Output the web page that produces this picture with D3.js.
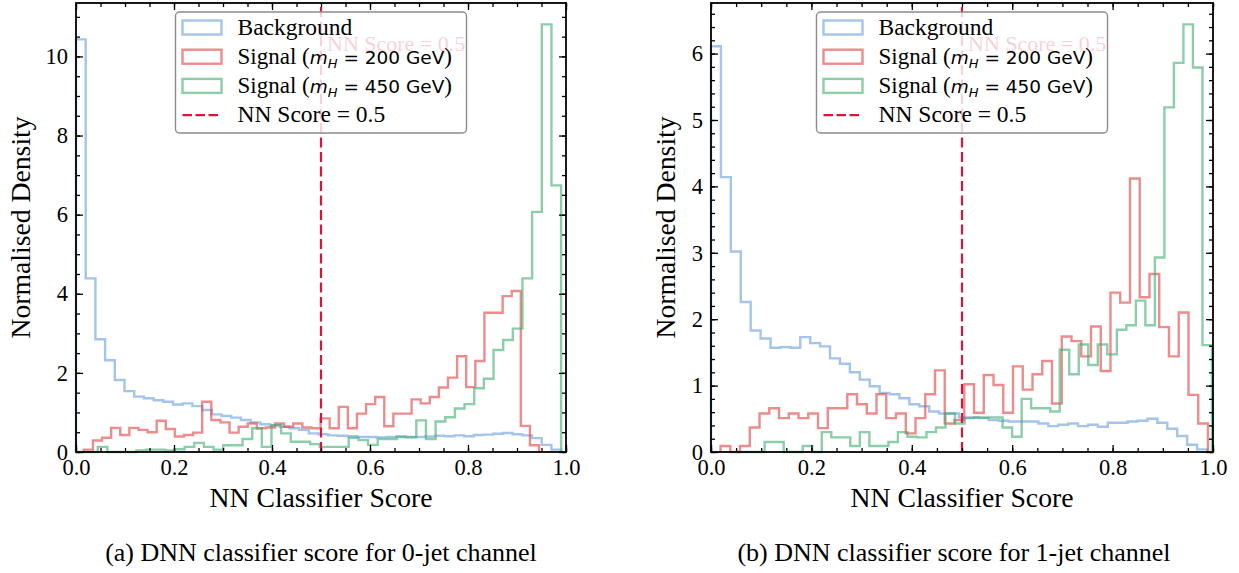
<!DOCTYPE html>
<html>
<head>
<meta charset="utf-8">
<script src="https://cdn.jsdelivr.net/npm/d3@7"></script>
<style>
  body { margin: 0; background: #fff; }
  svg { display: block; }
</style>
</head>
<body>
<div id="chart"></div>
<script>

// ---- data: normalised density per bin (50 bins per sample) ----

// 0-jet channel
var bg_0jet = [10.43, 4.39, 2.85, 2.32, 1.82, 1.54, 1.40, 1.36, 1.31, 1.27,
               1.20, 1.23, 1.16, 1.06, 0.95, 0.91, 0.87, 0.81, 0.75, 0.70,
               0.67, 0.64, 0.60, 0.56, 0.47, 0.45, 0.42, 0.41, 0.40, 0.38,
               0.38, 0.37, 0.38, 0.39, 0.37, 0.38, 0.39, 0.41, 0.40, 0.42,
               0.40, 0.43, 0.44, 0.46, 0.48, 0.45, 0.42, 0.35, 0.18, 0.06];
var sig200_0jet = [0.06, 0.29, 0.36, 0.61, 0.43, 0.61, 0.56, 0.50, 0.79, 0.58,
                   0.39, 0.43, 0.49, 1.27, 0.81, 0.75, 0.49, 0.64, 0.72, 0.60,
                   0.62, 0.72, 0.64, 0.72, 0.62, 0.60, 0.85, 0.60, 1.14, 0.60,
                   0.97, 1.21, 1.39, 0.65, 0.97, 0.97, 1.33, 1.23, 1.39, 1.63,
                   1.88, 2.42, 1.64, 2.30, 3.52, 3.52, 3.94, 4.07, 0.66, 0.17];
var sig450_0jet = [0, 0, 0.13, 0, 0, 0, 0.04, 0.06, 0.06, 0.04,
                   0.07, 0.13, 0.23, 0.13, 0.06, 0.17, 0.17, 0.33, 0.60, 0.13,
                   0.68, 0.47, 0.26, 0.26, 0.20, 0.13, 0.13, 0.13, 0.36, 0.30,
                   0.18, 0.33, 0.33, 0.38, 0.38, 0.80, 0.33, 0.77, 0.88, 1.10,
                   1.21, 1.61, 1.85, 2.58, 2.83, 3.12, 4.39, 6.07, 10.81, 6.74];

// 1-jet channel
var bg_1jet = [6.11, 4.14, 3.02, 2.26, 1.83, 1.71, 1.57, 1.58, 1.57, 1.73,
               1.64, 1.59, 1.41, 1.33, 1.20, 1.09, 0.99, 0.89, 0.87, 0.81,
               0.72, 0.69, 0.61, 0.58, 0.58, 0.52, 0.52, 0.51, 0.48, 0.47,
               0.46, 0.46, 0.46, 0.43, 0.39, 0.41, 0.43, 0.39, 0.41, 0.38,
               0.44, 0.44, 0.46, 0.47, 0.50, 0.44, 0.35, 0.24, 0.11, 0.04];
var sig200_1jet = [0.09, 0, 0.09, 0.37, 0.58, 0.66, 0.51, 0.58, 0.51, 0.58,
                   0.36, 0.66, 0.66, 0.87, 0.72, 0.58, 0.87, 0.51, 0.58, 0.28,
                   0.51, 0.87, 1.23, 0.43, 0.48, 1.02, 0.59, 1.16, 1.01, 0.59,
                   1.29, 0.94, 1.17, 1.37, 0.73, 1.74, 1.67, 1.44, 1.89, 1.22,
                   2.40, 2.25, 4.12, 2.33, 2.68, 1.88, 1.44, 2.10, 0.86, 0.43];
var sig450_1jet = [0, 0, 0, 0.15, 0.15, 0, 0, 0.09, 0, 0.30,
                   0.22, 0.22, 0.09, 0.30, 0.09, 0.09, 0.15, 0.30, 0.23, 0.22,
                   0.30, 0.37, 0.58, 0.43, 0.51, 0.52, 0.52, 0.52, 0.37, 0.23,
                   0.80, 0.66, 0.66, 0.61, 1.54, 1.17, 1.62, 1.31, 1.62, 1.47,
                   1.84, 1.91, 2.28, 1.91, 2.93, 5.19, 5.86, 6.44, 5.79, 1.61];

// score range covered by each sample's binning (min, max of the sample)
var bg_0jet_range = [0.0, 0.99];
var sig200_0jet_range = [0.016, 0.945];
var sig450_0jet_range = [0.005, 0.99];
var bg_1jet_range = [0.0, 0.988];
var sig200_1jet_range = [0.019, 0.99];
var sig450_1jet_range = [0.05, 0.998];

var sample_names = ["Background", "Signal 200", "Signal 450"];
var x_ticks = [0, 0.2, 0.4, 0.6, 0.8, 1.0];
var y_ticks_0jet = [0, 2, 4, 6, 8, 10];
var y_ticks_1jet = [0, 1, 2, 3, 4, 5, 6];
var captions = ["(a) DNN classifier score for 0-jet channel",
                "(b) DNN classifier score for 1-jet channel"];
var nn_cut = 0.5;

// ---- styling ----
var colors = ["#679ddc", "#df4040", "#3fac71"];
var serif = "'Liberation Serif', 'Times New Roman', serif";
var sans = "'DejaVu Sans', sans-serif";

var svg = d3.select("#chart")
  .append("svg")
    .attr("width", 1239)
    .attr("height", 573);

var panels = [
  { left: 76, right: 566, top: 3, bottom: 452, ylabelGap: 46, captionX: 321,
    series: [bg_0jet, sig200_0jet, sig450_0jet],
    ranges: [bg_0jet_range, sig200_0jet_range, sig450_0jet_range],
    yTicks: y_ticks_0jet, yMinorStep: 0.5, caption: captions[0] },
  { left: 711, right: 1213, top: 3, bottom: 452, ylabelGap: 36, captionX: 954,
    series: [bg_1jet, sig200_1jet, sig450_1jet],
    ranges: [bg_1jet_range, sig200_1jet_range, sig450_1jet_range],
    yTicks: y_ticks_1jet, yMinorStep: 0.2, caption: captions[1] }
];

panels.forEach(drawPanel);

function drawPanel(p) {
  var ymax = d3.max(p.series, function(s) { return d3.max(s); }) * 1.05;

  var x = d3.scaleLinear().domain([0, 1]).range([p.left, p.right]);
  var y = d3.scaleLinear().domain([0, ymax]).range([p.bottom, p.top]);

  var g = svg.append("g");

  // step histograms
  var line = d3.line()
    .x(function(d) { return x(d[0]); })
    .y(function(d) { return y(d[1]); });

  p.series.forEach(function(vals, k) {
    var lo = p.ranges[k][0], hi = p.ranges[k][1];
    var w = (hi - lo) / vals.length;
    var pts = [[lo, 0]];
    vals.forEach(function(v, i) {
      pts.push([lo + i * w, v]);
      pts.push([lo + (i + 1) * w, v]);
    });
    pts.push([hi, 0]);
    g.append("path")
      .datum(pts)
      .attr("d", line)
      .attr("fill", "none")
      .attr("stroke", colors[k])
      .attr("stroke-opacity", 0.6)
      .attr("stroke-width", 2.4)
      .attr("stroke-linejoin", "miter");
  });

  // NN cut line + its label (sits behind the legend)
  g.append("line")
    .attr("x1", x(nn_cut)).attr("x2", x(nn_cut))
    .attr("y1", y(0)).attr("y2", y(ymax))
    .attr("stroke", "#dc143c")
    .attr("stroke-width", 2.2)
    .attr("stroke-dasharray", "10,4.5");

  g.append("text")
    .attr("x", x(nn_cut) + 6)
    .attr("y", y(ymax * 0.9) + 3)
    .attr("fill", "#dc143c")
    .style("font-family", serif)
    .style("font-size", "22px")
    .text("NN Score = " + nn_cut);

  // axes: ticks inward on all four sides
  var xMinor = d3.range(0, 1.0001, 0.05);
  var yMinor = d3.range(0, ymax, p.yMinorStep);

  function styleAxis(sel) {
    sel.select(".domain").remove();
    sel.selectAll(".tick line").attr("stroke", "#000").attr("stroke-width", 1.3);
    sel.selectAll("text")
      .style("font-family", serif)
      .style("font-size", "22.5px")
      .attr("fill", "#000");
  }

  g.append("g")
    .attr("transform", "translate(0," + p.bottom + ")")
    .call(d3.axisBottom(x).tickValues(xMinor).tickSize(-4).tickFormat(""))
    .call(styleAxis);
  g.append("g")
    .attr("transform", "translate(0," + p.bottom + ")")
    .call(d3.axisBottom(x).tickValues(x_ticks).tickSize(-7).tickPadding(7)
      .tickFormat(d3.format(".1f")))
    .call(styleAxis);
  g.append("g")
    .attr("transform", "translate(0," + p.top + ")")
    .call(d3.axisTop(x).tickValues(xMinor).tickSize(-4).tickFormat(""))
    .call(styleAxis);
  g.append("g")
    .attr("transform", "translate(0," + p.top + ")")
    .call(d3.axisTop(x).tickValues(x_ticks).tickSize(-7).tickFormat(""))
    .call(styleAxis);

  g.append("g")
    .attr("transform", "translate(" + p.left + ",0)")
    .call(d3.axisLeft(y).tickValues(yMinor).tickSize(-4).tickFormat(""))
    .call(styleAxis);
  g.append("g")
    .attr("transform", "translate(" + p.left + ",0)")
    .call(d3.axisLeft(y).tickValues(p.yTicks).tickSize(-7).tickPadding(8)
      .tickFormat(d3.format("d")))
    .call(styleAxis);
  g.append("g")
    .attr("transform", "translate(" + p.right + ",0)")
    .call(d3.axisRight(y).tickValues(yMinor).tickSize(-4).tickFormat(""))
    .call(styleAxis);
  g.append("g")
    .attr("transform", "translate(" + p.right + ",0)")
    .call(d3.axisRight(y).tickValues(p.yTicks).tickSize(-7).tickFormat(""))
    .call(styleAxis);

  // frame
  g.append("rect")
    .attr("x", p.left).attr("y", p.top)
    .attr("width", p.right - p.left).attr("height", p.bottom - p.top)
    .attr("fill", "none")
    .attr("stroke", "#000")
    .attr("stroke-width", 1.8);

  // axis labels
  var cx = (p.left + p.right) / 2;
  g.append("text")
    .attr("x", cx).attr("y", p.bottom + 55)
    .attr("text-anchor", "middle")
    .style("font-family", serif).style("font-size", "27.7px")
    .text("NN Classifier Score");

  g.append("text")
    .attr("transform", "translate(" + (p.left - p.ylabelGap) + "," + ((p.top + p.bottom) / 2) + ") rotate(-90)")
    .attr("text-anchor", "middle")
    .style("font-family", serif).style("font-size", "27.7px")
    .text("Normalised Density");

  // caption
  g.append("text")
    .attr("x", p.captionX).attr("y", 561)
    .attr("text-anchor", "middle")
    .style("font-family", serif).style("font-size", "26px")
    .text(p.caption);

  // legend (upper centre, semi-transparent frame)
  var lw = 291, lh = 121;
  var lg = g.append("g")
    .attr("transform", "translate(" + (cx - lw / 2) + "," + (p.top + 9) + ")");
  lg.append("rect")
    .attr("width", lw).attr("height", lh)
    .attr("rx", 4).attr("ry", 4)
    .attr("fill", "#fff").attr("fill-opacity", 0.8)
    .attr("stroke", "#8c8c8c").attr("stroke-width", 1.4);

  var rowH = 29.2, row0 = 15.5;
  [0, 1, 2].forEach(function(k) {
    lg.append("rect")
      .attr("x", 7).attr("y", row0 + k * rowH - 7)
      .attr("width", 39).attr("height", 14)
      .attr("fill", "none")
      .attr("stroke", colors[k]).attr("stroke-opacity", 0.6)
      .attr("stroke-width", 2.4);
  });
  lg.append("line")
    .attr("x1", 7).attr("x2", 46)
    .attr("y1", row0 + 3 * rowH).attr("y2", row0 + 3 * rowH)
    .attr("stroke", "#dc143c").attr("stroke-width", 2.2)
    .attr("stroke-dasharray", "9.5,3.5");

  function legendText(k) {
    return lg.append("text")
      .attr("x", 62).attr("y", row0 + k * rowH + 7)
      .style("font-family", serif).style("font-size", "23.5px");
  }
  legendText(0).text(sample_names[0]);
  [1, 2].forEach(function(k) {
    var mass = sample_names[k].split(" ")[1];
    var t = legendText(k).style("font-size", "23px");
    t.append("tspan").text("Signal (");
    t.append("tspan").style("font-family", sans).style("font-style", "italic")
      .style("font-size", "18.5px").text("m");
    t.append("tspan").style("font-family", sans).style("font-style", "italic")
      .style("font-size", "13px").attr("dy", 4).text("H");
    t.append("tspan").style("font-family", sans).style("font-size", "18.5px")
      .attr("dy", -4).text(" = " + mass + " GeV");
    t.append("tspan").text(")");
  });
  legendText(3).text("NN Score = " + nn_cut);
}

</script>
</body>
</html>
